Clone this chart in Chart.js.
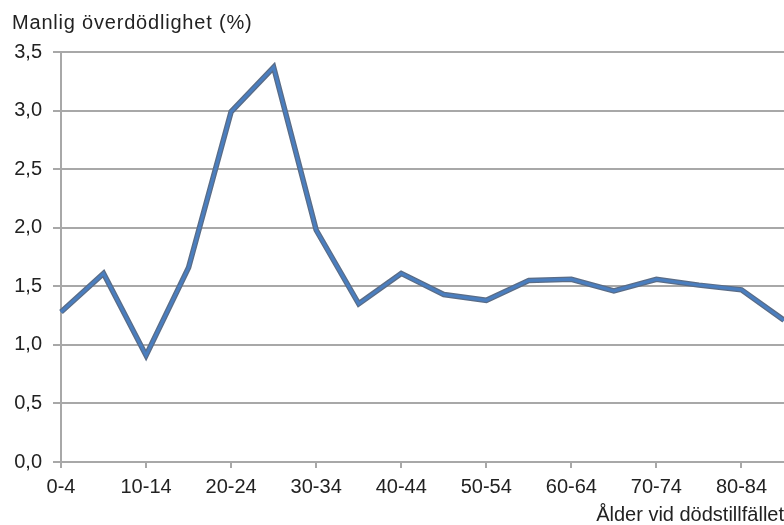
<!DOCTYPE html>
<html>
<head>
<meta charset="utf-8">
<script src="https://cdn.jsdelivr.net/npm/chart.js@4/dist/chart.umd.min.js"></script>
<style>
  html, body { margin: 0; padding: 0; background: #fff; }
  canvas { display: block; }
</style>
</head>
<body>
<canvas id="chart" width="784" height="525"></canvas>
<script>
// age groups (5-year bands) and excess male mortality in percent
const ageGroups = ['0-4', '5-9', '10-14', '15-19', '20-24', '25-29', '30-34', '35-39', '40-44',
  '45-49', '50-54', '55-59', '60-64', '65-69', '70-74', '75-79', '80-84', '85+'];
const excessMortality = [1.28, 1.61, 0.91, 1.66, 2.99, 3.37, 1.98, 1.35, 1.61,
  1.43, 1.38, 1.55, 1.56, 1.46, 1.56, 1.51, 1.47, 1.21];
const yTicks = [0, 0.5, 1.0, 1.5, 2.0, 2.5, 3.0, 3.5];

const yTitle = 'Manlig överdödlighet (%)';
const xTitle = 'Ålder vid dödstillfället';

const FONT = 'Liberation Sans, Arial, sans-serif';
const TEXT = '#222';
const GRID = '#a8a8a8';

// axis caption above the y axis
const captionPlugin = {
  id: 'caption',
  afterDraw(chart) {
    const ctx = chart.ctx;
    ctx.save();
    ctx.font = '20px ' + FONT;
    ctx.letterSpacing = '0.8px';
    ctx.fillStyle = TEXT;
    ctx.textAlign = 'left';
    ctx.textBaseline = 'middle';
    ctx.fillText(yTitle, 12, 23);
    ctx.restore();
  }
};

new Chart(document.getElementById('chart'), {
  type: 'line',
  data: {
    labels: ageGroups,
    datasets: [
      {
        // blue line on top
        data: excessMortality,
        borderColor: '#4a7ebf',
        borderWidth: 3,
        pointRadius: 0,
        tension: 0,
        order: 0
      },
      {
        // darker edge under the line
        data: excessMortality,
        borderColor: '#5a6c86',
        borderWidth: 5.5,
        pointRadius: 0,
        tension: 0,
        order: 1
      }
    ]
  },
  options: {
    responsive: false,
    animation: false,
    layout: { padding: { top: 52, right: 0, bottom: 0, left: 0 } },
    plugins: {
      legend: { display: false },
      tooltip: { enabled: false }
    },
    scales: {
      x: {
        offset: false,
        grid: {
          drawOnChartArea: false,
          tickLength: 6,
          lineWidth: 2,
          color: (c) => (c.index % 2 === 0 ? GRID : 'rgba(0,0,0,0)')
        },
        border: { color: GRID, width: 2 },
        ticks: {
          autoSkip: false,
          maxRotation: 0,
          padding: 0,
          color: TEXT,
          font: { family: FONT, size: 20, lineHeight: 1.95 },
          callback: (v, i) => (i % 2 === 0 ? ageGroups[i] : '')
        },
        title: {
          display: true,
          text: xTitle,
          align: 'end',
          color: TEXT,
          font: { family: FONT, size: 20, lineHeight: 1.0 },
          padding: { top: 0, bottom: 0 }
        },
        afterFit: (s) => { s.height = 63; }
      },
      y: {
        min: 0,
        max: 3.5,
        grid: { color: GRID, lineWidth: 2, tickLength: 8 },
        border: { color: GRID, width: 2 },
        afterBuildTicks: (s) => { s.ticks = yTicks.map(v => ({ value: v })); },
        ticks: {
          padding: 11,
          color: TEXT,
          font: { family: FONT, size: 20 },
          callback: (v) => v.toFixed(1).replace('.', ',')
        },
        afterFit: (s) => { s.width = 61; }
      }
    }
  },
  plugins: [captionPlugin]
});
</script>
</body>
</html>
